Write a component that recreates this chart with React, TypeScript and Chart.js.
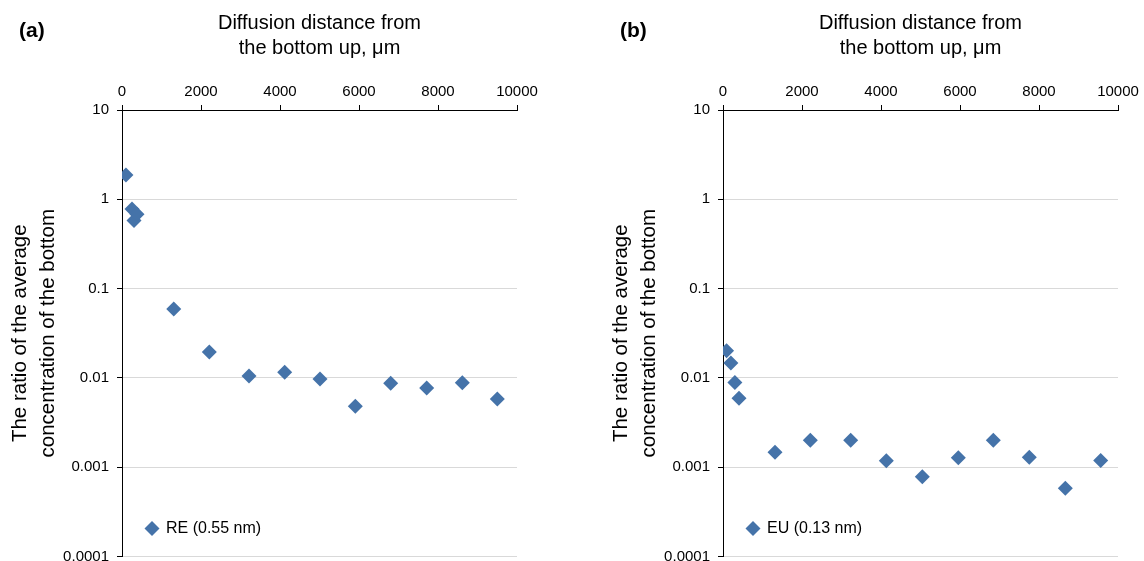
import React, { useEffect, useRef } from "react";
import { Chart, registerables } from "chart.js";

Chart.register(...registerables);

const FONT = "'Liberation Sans', Arial, Helvetica, sans-serif";
const MARKER_COLOR = "#4573A9";

// Axis settings
const xMin = 0;
const xMax = 10000;
const xStep = 2000;
const yTickValues = [0.0001, 0.001, 0.01, 0.1, 1, 10];
const yTickLabels = ["0.0001", "0.001", "0.01", "0.1", "1", "10"];
const xTitle = ["Diffusion distance from", "the bottom up, μm"];
const yTitle = ["The ratio of the average", "concentration of the bottom"];

// Panel (a): RE (0.55 nm)
const distanceRE = [100, 253, 304, 380, 1310, 2210, 3215, 4119, 5013, 5907, 6802, 7713, 8616, 9502];
const ratioRE = [1.87, 0.78, 0.58, 0.68, 0.059, 0.0195, 0.0105, 0.0116, 0.0097, 0.0048, 0.0087, 0.0077, 0.0088, 0.0058];

// Panel (b): EU (0.13 nm)
const distanceEU = [90, 200, 300, 405, 1316, 2210, 3233, 4134, 5046, 5957, 6843, 7754, 8666, 9562];
const ratioEU = [0.0202, 0.0147, 0.0089, 0.0059, 0.00147, 0.002, 0.002, 0.00118, 0.00078, 0.00128, 0.002, 0.00129, 0.00058, 0.00119];

const overlayPlugin = {
  id: "panelOverlay",
  afterDraw(chart: any, _args: any, opts: any) {
    const ctx = chart.ctx as CanvasRenderingContext2D;
    const ca = chart.chartArea;
    ctx.save();
    ctx.fillStyle = "#000";
    ctx.font = `bold 21px ${FONT}`;
    ctx.textAlign = "left";
    ctx.textBaseline = "middle";
    ctx.fillText(opts.panel, 19, 31);

    const ds = chart.data.datasets[0];
    const cx = ca.left + 30;
    const cy = ca.bottom - 28;
    const r = 7.5;
    ctx.fillStyle = ds.backgroundColor;
    ctx.beginPath();
    ctx.moveTo(cx, cy - r);
    ctx.lineTo(cx + r, cy);
    ctx.lineTo(cx, cy + r);
    ctx.lineTo(cx - r, cy);
    ctx.closePath();
    ctx.fill();
    ctx.fillStyle = "#000";
    ctx.font = `16px ${FONT}`;
    ctx.fillText(ds.label, cx + 14, cy);
    ctx.restore();
  },
};

type PanelProps = {
  panel: string;
  label: string;
  xs: number[];
  ys: number[];
  left: number;
  width: number;
};

function Panel({ panel, label, xs, ys, left, width }: PanelProps) {
  const ref = useRef<HTMLCanvasElement | null>(null);
  useEffect(() => {
    if (!ref.current) return;
    const chart = new Chart(ref.current, {
      type: "scatter",
      data: {
        datasets: [
          {
            label,
            data: xs.map((x, i) => ({ x, y: ys[i] })),
            backgroundColor: MARKER_COLOR,
            borderWidth: 0,
            pointStyle: "rectRot",
            pointRadius: 7.5,
          },
        ],
      },
      options: {
        animation: false,
        responsive: false,
        layout: { autoPadding: false, padding: { left: 0, top: 0, right: width - 517, bottom: 4.5 } },
        plugins: {
          legend: { display: false },
          tooltip: { enabled: false },
          panelOverlay: { panel },
        } as any,
        scales: {
          x: {
            type: "linear",
            position: "top",
            min: xMin,
            max: xMax,
            ticks: {
              stepSize: xStep,
              color: "#000",
              font: { family: FONT, size: 15 },
              padding: 4,
              maxRotation: 0,
              callback: (v: any) => String(v),
            },
            grid: {
              drawOnChartArea: false,
              drawTicks: true,
              tickLength: 5,
              tickColor: "#000",
            },
            border: { display: true, color: "#000", width: 1 },
            title: {
              display: true,
              text: xTitle,
              color: "#000",
              font: { family: FONT, size: 20, lineHeight: 1.25 },
              padding: { top: 11, bottom: 0 },
            },
            afterFit(scale: any) {
              scale.height = 110;
              scale.paddingLeft = 0;
              scale.paddingRight = 0;
            },
          },
          y: {
            type: "logarithmic",
            position: "left",
            min: 0.0001,
            max: 10,
            afterBuildTicks(scale: any) {
              scale.ticks = yTickValues.map((v) => ({ value: v }));
            },
            ticks: {
              color: "#000",
              font: { family: FONT, size: 15 },
              padding: 8,
              callback: (v: any) => {
                const i = yTickValues.findIndex((t) => Math.abs(t - Number(v)) / t < 1e-6);
                return i >= 0 ? yTickLabels[i] : "";
              },
            },
            grid: {
              color: "#D9D9D9",
              lineWidth: 1,
              drawTicks: true,
              tickLength: 5,
              tickColor: "#000",
            },
            border: { display: true, color: "#000", width: 1 },
            title: {
              display: true,
              text: yTitle,
              color: "#000",
              font: { family: FONT, size: 20.5, lineHeight: 1.33 },
              padding: { top: 7, bottom: 0 },
            },
            afterFit(scale: any) {
              scale.width = 122;
              scale.paddingTop = 0;
              scale.paddingBottom = 0;
            },
          },
        },
      },
      plugins: [overlayPlugin],
    });
    return () => chart.destroy();
  }, []);
  return (
    <canvas
      ref={ref}
      width={width}
      height={561}
      style={{ position: "absolute", left, top: 0, width, height: 561 }}
    />
  );
}

export default function App() {
  return (
    <div style={{ position: "absolute", left: 0, top: 0, width: 1144, height: 561, background: "#fff", overflow: "hidden" }}>
      <Panel panel="(a)" label="RE (0.55 nm)" xs={distanceRE} ys={ratioRE} left={0} width={601} />
      <Panel panel="(b)" label="EU (0.13 nm)" xs={distanceEU} ys={ratioEU} left={601} width={543} />
    </div>
  );
}
